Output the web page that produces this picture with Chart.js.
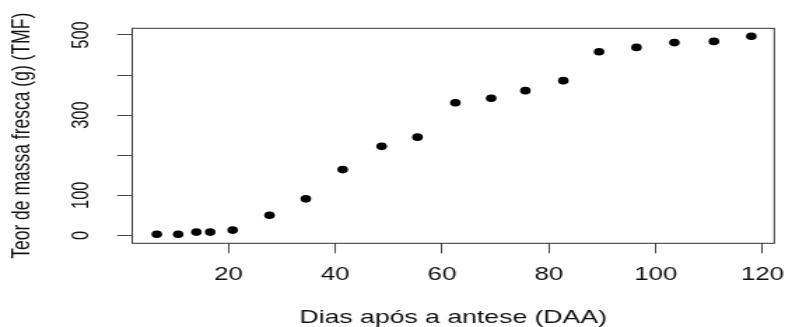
<!DOCTYPE html>
<html lang="pt">
<head>
<meta charset="UTF-8">
<title>Teor de massa fresca</title>
<script src="https://cdn.jsdelivr.net/npm/chart.js"></script>
<style>
    html, body { margin: 0; padding: 0; background: #fff; overflow: hidden; }
    /* o gráfico original está esticado na horizontal */
    #caixa { width: 571px; height: 327px; transform: scaleX(1.3993); transform-origin: 0 0; }
</style>
</head>
<body>
<div id="caixa"><canvas id="grafico" width="571" height="327"></canvas></div>

<script>
// dados
const dias  = [6.6, 10.6, 14, 16.6, 20.8, 27.7, 34.5, 41.4, 48.7, 55.4, 62.5, 69.2, 75.6, 82.7, 89.4, 96.4, 103.5, 110.9, 117.9];
const massa = [2.5, 2.5, 8, 8, 13, 50, 91, 164, 222, 245, 331, 342, 361, 386, 458, 469, 481, 484, 497];

const ticksX   = [20, 40, 60, 80, 100, 120];
const ticksY   = [0, 100, 200, 300, 400, 500];
const rotulosY = ['0', '100', '', '300', '', '500'];

const fonte = '"Liberation Sans", Arial, sans-serif';

// moldura em volta da área do gráfico (estilo R)
const moldura = {
    id: 'moldura',
    afterDraw(chart) {
        const { ctx, chartArea: a } = chart;
        ctx.save();
        ctx.strokeStyle = '#333';
        ctx.lineWidth = 1;
        ctx.strokeRect(a.left, a.top, a.right - a.left, a.bottom - a.top);
        ctx.restore();
    }
};

const ctx = document.getElementById('grafico').getContext('2d');

new Chart(ctx, {
    type: 'scatter',
    data: {
        datasets: [{
            data: dias.map((d, i) => ({ x: d, y: massa[i] })),
            backgroundColor: '#000',
            borderColor: '#000',
            pointRadius: 3.8,
            pointBorderWidth: 0
        }]
    },
    plugins: [moldura],
    options: {
        responsive: false,
        animation: false,
        layout: { padding: { top: 28.3, right: 7.2, left: 0, bottom: 0 } },
        plugins: {
            legend: { display: false },
            tooltip: { enabled: false }
        },
        scales: {
            x: {
                type: 'linear',
                min: 2.0,
                max: 122.2,
                afterFit: s => { s.height = 83.7; },
                afterBuildTicks: s => { s.ticks = ticksX.map(v => ({ value: v })); },
                grid: { drawOnChartArea: false, drawTicks: true, tickLength: 10, color: '#444' },
                border: { display: false },
                ticks: {
                    autoSkip: false,
                    maxRotation: 0,
                    padding: 10.5,
                    color: '#111',
                    font: { family: fonte, size: 18.5 }
                },
                title: {
                    display: true,
                    text: 'Dias após a antese (DAA)',
                    color: '#111',
                    font: { family: fonte, size: 19, lineHeight: 1 },
                    padding: { top: 0, bottom: 0 }
                }
            },
            y: {
                min: -20,
                max: 516.7,
                afterFit: s => { s.width = 94.5; },
                afterBuildTicks: s => { s.ticks = ticksY.map(v => ({ value: v })); },
                grid: { drawOnChartArea: false, drawTicks: true, tickLength: 10.7, color: '#444' },
                border: { display: false },
                ticks: {
                    autoSkip: false,
                    minRotation: 90,
                    maxRotation: 90,
                    crossAlign: 'center',
                    padding: 11.5,
                    color: '#111',
                    font: { family: fonte, size: 16.5 },
                    callback: v => rotulosY[ticksY.indexOf(v)] ?? ''
                },
                title: {
                    display: true,
                    text: 'Teor de massa fresca (g) (TMF)',
                    color: '#111',
                    font: { family: fonte, size: 17.5, lineHeight: 1 },
                    padding: { top: 7, bottom: 0 }
                }
            }
        }
    }
});
</script>
</body>
</html>
